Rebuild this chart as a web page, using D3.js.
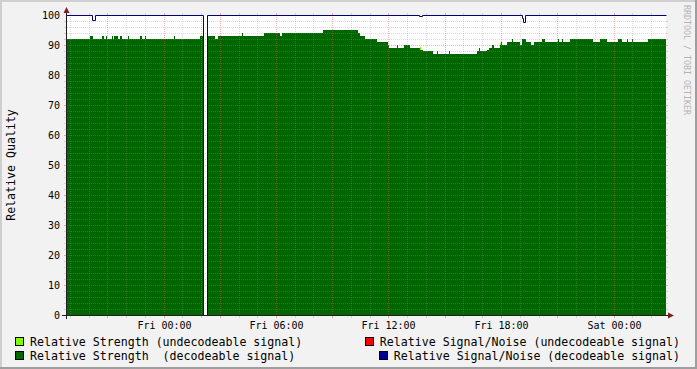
<!DOCTYPE html>
<html>
<head>
<meta charset="utf-8">
<script src="https://cdn.jsdelivr.net/npm/d3@7"></script>
<style>
  body { margin: 0; background: #f2f2f2; }
  svg { display: block; }
  text { font-family: "DejaVu Sans Mono", monospace; fill: #000; }
</style>
</head>
<body>
<div id="chart"></div>
<script>
// step series: [start time, value in %], each value holds until the next entry
const strengthDecoded = [
  ["Thu 18:48", 92], ["Thu 20:05", 93], ["Thu 20:14", 92], ["Thu 20:43", 93], ["Thu 20:50", 92],
  ["Thu 20:56", 93], ["Thu 20:59", 92], ["Thu 21:15", 93], ["Thu 21:18", 92], ["Thu 21:22", 93],
  ["Thu 21:34", 92], ["Thu 21:41", 93], ["Thu 21:47", 92], ["Thu 22:06", 93], ["Thu 22:10", 92],
  ["Thu 22:45", 93], ["Thu 22:51", 92], ["Thu 23:01", 93], ["Thu 23:04", 92], ["Fri 00:34", 93],
  ["Fri 00:37", 92], ["Fri 01:57", 93], ["Fri 02:06", 0], ["Fri 02:19", 93], ["Fri 02:45", 92],
  ["Fri 02:54", 93], ["Fri 04:11", 94], ["Fri 04:14", 93], ["Fri 05:22", 94], ["Fri 06:13", 93],
  ["Fri 06:19", 94], ["Fri 08:30", 95], ["Fri 10:22", 94], ["Fri 10:29", 93], ["Fri 10:45", 92],
  ["Fri 11:23", 91], ["Fri 11:58", 90], ["Fri 12:02", 89], ["Fri 12:27", 90], ["Fri 12:30", 89],
  ["Fri 12:50", 90], ["Fri 13:09", 89], ["Fri 13:41", 88.5], ["Fri 13:50", 88], ["Fri 14:22", 87],
  ["Fri 14:35", 88], ["Fri 14:38", 87], ["Fri 15:14", 88], ["Fri 15:17", 87], ["Fri 16:43", 88],
  ["Fri 16:50", 89], ["Fri 16:53", 88], ["Fri 17:15", 88.5], ["Fri 17:22", 89], ["Fri 17:31", 90],
  ["Fri 17:38", 89], ["Fri 17:57", 90], ["Fri 18:00", 91], ["Fri 18:03", 90], ["Fri 18:19", 91],
  ["Fri 18:35", 92], ["Fri 18:38", 91], ["Fri 19:01", 90], ["Fri 19:07", 92], ["Fri 19:20", 91],
  ["Fri 19:36", 90], ["Fri 19:46", 91], ["Fri 20:11", 92], ["Fri 20:21", 91], ["Fri 21:02", 92],
  ["Fri 21:06", 91], ["Fri 21:15", 92], ["Fri 21:18", 91], ["Fri 21:41", 92], ["Fri 22:54", 91],
  ["Fri 23:17", 92], ["Fri 23:39", 91], ["Sat 00:14", 92], ["Sat 00:27", 91], ["Sat 00:43", 92],
  ["Sat 00:46", 91], ["Sat 00:59", 92], ["Sat 01:02", 91], ["Sat 01:50", 92]
];
const strengthUndecoded = [
  ["Thu 18:48", 0], ["Thu 20:11", 92.8], ["Thu 20:14", 0], ["Fri 13:41", 89.3], ["Fri 13:44", 0],
  ["Fri 17:57", 90.8], ["Fri 18:00", 0]
];
const noiseDecoded = [
  ["Thu 18:48", 100], ["Thu 20:11", 98.3], ["Thu 20:21", 100], ["Fri 02:06", 0], ["Fri 02:19", 100],
  ["Fri 13:38", 99.6], ["Fri 13:47", 100], ["Fri 19:07", 98.9], ["Fri 19:10", 97.8], ["Fri 19:17", 100]
];
const noiseUndecoded = [];

const timeStart = "Thu 18:48";
const timeEnd = "Sat 02:48";
const yTickValues = [0, 10, 20, 30, 40, 50, 60, 70, 80, 90, 100];

const legendLeft = [
  { label: "Relative Strength (undecodeable signal)", color: "#80ff00" },
  { label: "Relative Strength  (decodeable signal)", color: "#006600" }
];
const legendRight = [
  { label: "Relative Signal/Noise (undecodeable signal)", color: "#ff0000" },
  { label: "Relative Signal/Noise (decodeable signal)", color: "#000099" }
];

const dayOfMonth = { Thu: 3, Fri: 4, Sat: 5 };
function parseTime(s) {
  const [d, hm] = s.split(" ");
  const [h, m] = hm.split(":").map(Number);
  return new Date(2011, 2, dayOfMonth[d], h, m);
}

const width = 697, height = 369;
const x0 = 66, y0 = 315, xsize = 600, ysize = 300;

const start = parseTime(timeStart), end = parseTime(timeEnd);
const x = d3.scaleTime().domain([start, end]).range([x0, x0 + xsize]);
const y = d3.scaleLinear().domain([0, 100]).range([y0, y0 - ysize]);
const xr = d => Math.round(x(d));

function steps(list) {
  const pts = list.map(([s, v]) => ({ date: parseTime(s), v }));
  if (pts.length) pts.push({ date: end, v: pts[pts.length - 1].v });
  return pts;
}

const svg = d3.select("#chart").append("svg")
  .attr("width", width)
  .attr("height", height);

// background and rrdtool style shading
svg.append("rect").attr("width", width).attr("height", height).attr("fill", "#f2f2f2");
svg.append("rect").attr("x", 0).attr("y", 0).attr("width", width).attr("height", 2).attr("fill", "#cfcfcf");
svg.append("rect").attr("x", 0).attr("y", 0).attr("width", 2).attr("height", height).attr("fill", "#cfcfcf");
svg.append("rect").attr("x", 0).attr("y", height - 2).attr("width", width).attr("height", 2).attr("fill", "#9e9e9e");
svg.append("rect").attr("x", width - 2).attr("y", 0).attr("width", 2).attr("height", height).attr("fill", "#9e9e9e");

// canvas
svg.append("rect")
  .attr("x", x0).attr("y", y0 - ysize)
  .attr("width", xsize).attr("height", ysize)
  .attr("fill", "#fff");

// areas
const area = d3.area()
  .curve(d3.curveStepAfter)
  .x(d => xr(d.date))
  .y0(y(0))
  .y1(d => y(d.v));

svg.append("path")
  .datum(steps(strengthUndecoded))
  .attr("d", area)
  .attr("fill", "#80ff00")
  .attr("shape-rendering", "crispEdges");

svg.append("path")
  .datum(steps(strengthDecoded))
  .attr("d", area)
  .attr("fill", "#006600")
  .attr("shape-rendering", "crispEdges");

// grid
const minorGrid = "rgba(143,143,143,0.32)";
const majorGrid = "rgba(222,79,79,0.45)";
const grid = svg.append("g");

const hours = d3.timeHour.range(start, end);
hours.filter(d => d > start).forEach(d => {
  const px = xr(d) + 0.5;
  const major = d.getHours() % 3 === 0;
  const col = major ? majorGrid : minorGrid;
  grid.append("line")
    .attr("x1", px).attr("x2", px)
    .attr("y1", y0 - ysize).attr("y2", y0)
    .attr("stroke", col).attr("stroke-dasharray", "1,1");
  grid.append("line")
    .attr("x1", px).attr("x2", px)
    .attr("y1", y0 - ysize - 2).attr("y2", y0 - ysize)
    .attr("stroke", col);
  grid.append("line")
    .attr("x1", px).attr("x2", px)
    .attr("y1", y0 + 1).attr("y2", y0 + 3)
    .attr("stroke", col);
});

d3.range(2, 100, 2).forEach(v => {
  const py = Math.round(y(v)) + 0.5;
  const col = v % 10 === 0 ? majorGrid : minorGrid;
  grid.append("line")
    .attr("x1", x0 + 1).attr("x2", x0 + xsize)
    .attr("y1", py).attr("y2", py)
    .attr("stroke", col).attr("stroke-dasharray", "1,1");
  grid.append("line")
    .attr("x1", x0 - 2).attr("x2", x0)
    .attr("y1", py).attr("y2", py)
    .attr("stroke", col);
  grid.append("line")
    .attr("x1", x0 + xsize).attr("x2", x0 + xsize + 2)
    .attr("y1", py).attr("y2", py)
    .attr("stroke", col);
});

// S/N lines
const line = d3.line()
  .curve(d3.curveStepAfter)
  .x(d => xr(d.date))
  .y(d => Math.round(y(d.v)));

svg.append("path")
  .datum(steps(noiseUndecoded))
  .attr("d", line)
  .attr("transform", "translate(0.5,0.5)")
  .attr("fill", "none")
  .attr("stroke", "#ff0000");

svg.append("path")
  .datum(steps(noiseDecoded))
  .attr("d", line)
  .attr("transform", "translate(0.5,0.5)")
  .attr("fill", "none")
  .attr("stroke", "#000080");

// axes
svg.append("line")
  .attr("x1", x0 - 4).attr("x2", x0 + xsize + 4)
  .attr("y1", y0 + 0.5).attr("y2", y0 + 0.5)
  .attr("stroke", "#1f1f1f");
svg.append("line")
  .attr("x1", x0 + 0.5).attr("x2", x0 + 0.5)
  .attr("y1", y0 + 4).attr("y2", y0 - ysize - 4)
  .attr("stroke", "#1f1f1f");
svg.append("path")
  .attr("d", `M${x0 + xsize + 2},${y0 - 2.5}L${x0 + xsize + 2},${y0 + 3.5}L${x0 + xsize + 8},${y0 + 0.5}Z`)
  .attr("fill", "#801f1f");
svg.append("path")
  .attr("d", `M${x0 - 2.5},${y0 - ysize - 2}L${x0 + 3.5},${y0 - ysize - 2}L${x0 + 0.5},${y0 - ysize - 8}Z`)
  .attr("fill", "#801f1f");

// tick labels
svg.append("g").selectAll("text")
  .data(yTickValues)
  .join("text")
  .attr("x", x0 - 6)
  .attr("y", d => y(d) + 4)
  .attr("text-anchor", "end")
  .style("font-size", "10px")
  .text(d => d);

const fmt = d3.timeFormat("%a %H:%M");
svg.append("g").selectAll("text")
  .data(hours.filter(d => d.getHours() % 6 === 0))
  .join("text")
  .attr("x", d => xr(d) + 0.5)
  .attr("y", 328.5)
  .attr("text-anchor", "middle")
  .style("font-size", "10px")
  .text(d => fmt(d));

// y axis title
svg.append("text")
  .attr("transform", `translate(15,${y0 - ysize / 2}) rotate(-90)`)
  .attr("text-anchor", "middle")
  .style("font-size", "11.6px")
  .text("Relative Quality");

// watermark
svg.append("text")
  .attr("transform", "translate(684,5) rotate(90)")
  .style("font-size", "8.3px")
  .style("fill", "#b4b4b4")
  .text("RRDTOOL / TOBI OETIKER");

// legend
const rowY = [345.5, 359.5];
legendLeft.forEach((d, i) => {
  svg.append("rect")
    .attr("x", 15.5).attr("y", rowY[i] - 8)
    .attr("width", 8).attr("height", 8)
    .attr("fill", d.color).attr("stroke", "#000");
  svg.append("text")
    .attr("x", 30).attr("y", rowY[i])
    .style("font-size", "11.6px")
    .style("white-space", "pre")
    .text(d.label);
});
legendRight.forEach((d, i) => {
  const t = svg.append("text")
    .attr("x", 680).attr("y", rowY[i])
    .attr("text-anchor", "end")
    .style("font-size", "11.6px")
    .style("white-space", "pre")
    .text(d.label);
  const left = 680 - t.node().getComputedTextLength();
  svg.append("rect")
    .attr("x", Math.round(left) - 14.5).attr("y", rowY[i] - 8)
    .attr("width", 8).attr("height", 8)
    .attr("fill", d.color).attr("stroke", "#000");
});
</script>
</body>
</html>
